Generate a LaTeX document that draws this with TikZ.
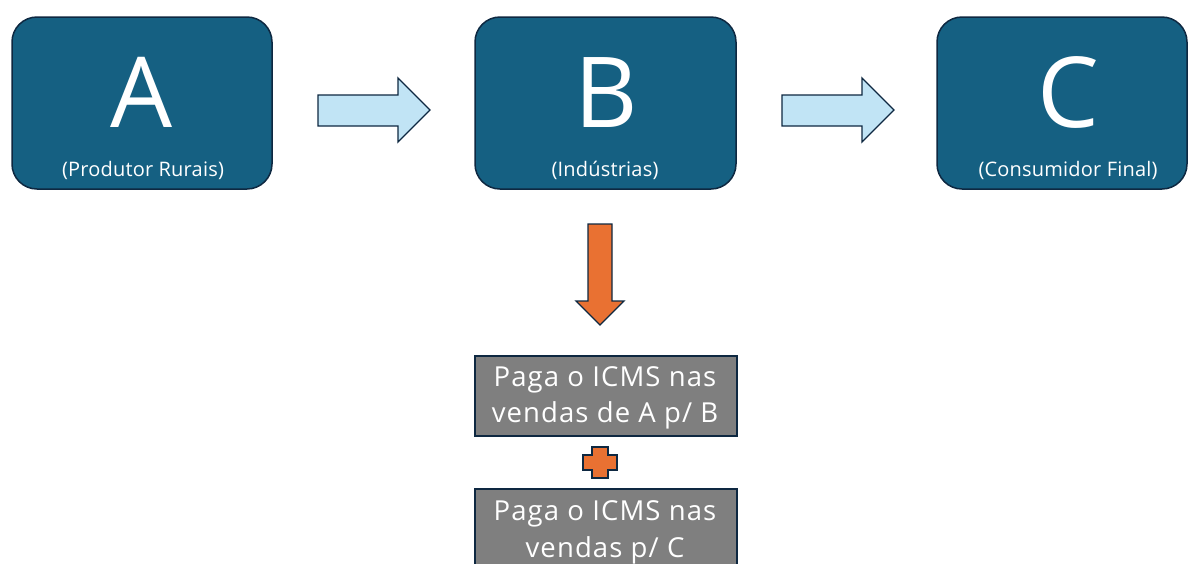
\documentclass[tikz,border=0pt]{standalone}
\usepackage{fontspec}
\setmainfont{Open Sans}
\definecolor{boxblue}{HTML}{156082}
\definecolor{edgenavy}{HTML}{0E2841}
\definecolor{lightarrow}{HTML}{C1E4F5}
\definecolor{orangefill}{HTML}{E97132}
\definecolor{notegray}{HTML}{7F7F7F}
\tikzset{
  stage/.style={draw=edgenavy, line width=1.5pt, fill=boxblue, rounded corners=25pt},
  bigletter/.style={text=white, font=\fontsize{98}{98}\selectfont, anchor=base, inner sep=0pt},
  sublabel/.style={text=white, font=\fontsize{20}{22}\selectfont\addfontfeature{LetterSpace=1}, anchor=base, inner sep=0pt},
  flowarrow/.style={draw=edgenavy, line width=1.3pt, fill=lightarrow, line join=miter},
  taxarrow/.style={draw=edgenavy, line width=1.3pt, fill=orangefill, line join=miter},
  note/.style={draw=edgenavy, line width=1.5pt, fill=notegray},
  notetext/.style={text=white, font=\fontsize{27.5}{27.5}\selectfont\addfontfeature{LetterSpace=4}, anchor=base, inner sep=0pt}
}
\begin{document}
\begin{tikzpicture}[x=1pt, y=-1pt]
\useasboundingbox (0,0) rectangle (1189,563);

% three stages of the chain
\draw[stage] (12,17) rectangle (272,189);
\draw[stage] (475,17) rectangle (736,189);
\draw[stage] (937,17) rectangle (1187,189);
\node[bigletter] (la) at (142,127) {A};
\node[bigletter] (lb) at (606,127) {B};
\node[bigletter] (lc) at (1068,127) {C};
\node[sublabel] (sa) at (143,176) {(Produtor Rurais)};
\node[sublabel] (sb) at (605,176) {(Indústrias)};
\node[sublabel] (sc) at (1068,176) {(Consumidor Final)};

% flow arrows between stages
\draw[flowarrow] (318,95) -- (398,95) -- (398,78) -- (430,110) -- (398,142) -- (398,126) -- (318,126) -- cycle;
\draw[flowarrow] (782,95) -- (862,95) -- (862,78) -- (894,110) -- (862,142) -- (862,126) -- (782,126) -- cycle;

% downward arrow from the industry stage
\draw[taxarrow] (588,224) -- (612,224) -- (612,301) -- (624,301) -- (600,325) -- (576,301) -- (588,301) -- cycle;

% tax notes
\draw[note] (475,356) rectangle (737,436);
\node[notetext] (n1a) at (605,386) {Paga o ICMS nas};
\node[notetext] (n1b) at (605,422) {vendas de A p/ B};

\draw[taxarrow] (592,447) -- (608,447) -- (608,455) -- (617,455) -- (617,470) -- (608,470) -- (608,478) -- (592,478) -- (592,470) -- (583,470) -- (583,455) -- (592,455) -- cycle;

\begin{scope}
\clip (0,0) rectangle (1189,563);
\draw[note] (475,489) rectangle (737,580);
\end{scope}
\node[notetext] (n2a) at (605,520) {Paga o ICMS nas};
\node[notetext] (n2b) at (605,557) {vendas p/ C};
\end{tikzpicture}
\end{document}
